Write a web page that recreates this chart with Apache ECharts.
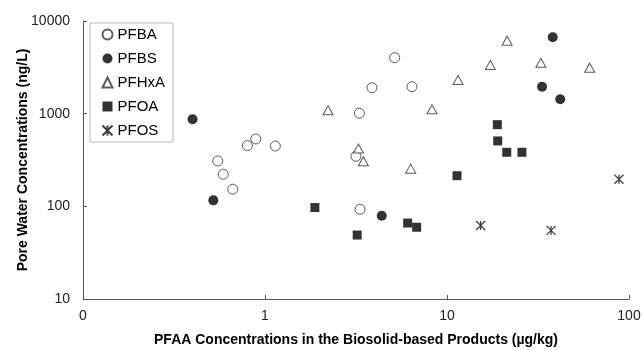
<!DOCTYPE html>
<html lang="en">
<head>
    <meta charset="UTF-8">
    <title>Pore water vs biosolid</title>
    <script src="https://cdn.jsdelivr.net/npm/echarts@6/dist/echarts.min.js"></script>
    <style>
        *{padding:0;margin:0;box-sizing:border-box;}
        body{background:#fff;}
        #main{width:644px;height:350px;}
    </style>
</head>
<body>
    <div id="main"></div>
    <script>
        // [biosolid ug/kg, pore water ng/L]
        var pfba=[[0.55,309],[0.59,222],[0.665,153],[0.80,452],[0.89,533],[1.14,448],[3.16,347],[3.30,1010],[3.33,93],[3.87,1907],[5.16,4019],[6.42,1955]]
        var pfbs=[[0.40,871],[0.52,116],[4.38,79],[33.3,1955],[38.1,6670],[41.9,1430]]
        var pfhxa=[[2.22,1088],[3.26,421],[3.47,307],[6.32,255],[8.27,1116],[11.5,2310],[17.3,3353],[21.4,6132],[32.8,3548],[60.8,3136]]
        var pfoa=[[1.88,97],[3.21,49],[6.08,66],[6.81,59.5],[11.35,214],[18.9,761],[19.0,508],[21.3,383],[25.8,383]]
        var pfos=[[15.3,62],[37.3,55],[88.1,196]]
        var seriesNames=["PFBA","PFBS","PFHxA","PFOA","PFOS"]

        var myChart=echarts.init(document.getElementById("main"))
        var font="Liberation Sans, Arial, sans-serif"
        var ink="#333"
        var asterisk="path://M0,0L10,10M10,0L0,10M5,0L5,10"

        var option={
            animation:false,
            textStyle:{fontFamily:font},
            grid:{left:83,right:15,top:21,bottom:51,outerBoundsMode:"none",containLabel:false},
            legend:{
                data:seriesNames,
                orient:"vertical",
                left:90,
                top:23,
                padding:[4,8,4,10],
                itemGap:9,
                itemWidth:10,
                itemHeight:10,
                borderColor:"#bbb",
                borderWidth:1,
                textStyle:{fontSize:15,color:"#000",fontFamily:font,lineHeight:15},
            },
            xAxis:{
                type:"log",
                logBase:10,
                min:0.1,
                max:100,
                name:"PFAA Concentrations in the Biosolid-based Products (µg/kg)",
                nameLocation:"middle",
                nameGap:34,
                nameTextStyle:{fontSize:14,fontWeight:"bold",color:"#000",fontFamily:font},
                axisLine:{lineStyle:{color:"#555",width:1}},
                axisTick:{inside:true,length:4,lineStyle:{color:"#555"}},
                axisLabel:{fontSize:14,color:"#222",margin:10,formatter:function(v){return v<1?"0":String(Math.round(v))}},
                splitLine:{show:false},
                minorTick:{show:false},
            },
            yAxis:{
                type:"log",
                logBase:10,
                min:10,
                max:10000,
                name:"Pore Water Concentrations (ng/L)",
                nameLocation:"middle",
                nameGap:53,
                nameMoveOverlap:false,
                nameTextStyle:{fontSize:14,fontWeight:"bold",color:"#000",fontFamily:font},
                axisLine:{show:true,lineStyle:{color:"#555",width:1}},
                axisTick:{show:true,inside:true,length:4,lineStyle:{color:"#555"}},
                axisLabel:{fontSize:14,color:"#222",margin:13,formatter:function(v){return String(Math.round(v))}},
                splitLine:{show:false},
            },
            series:[
                {name:"PFBA",type:"scatter",data:pfba,symbol:"circle",symbolSize:10,
                    itemStyle:{color:"#fff",borderColor:ink,borderWidth:1}},
                {name:"PFBS",type:"scatter",data:pfbs,symbol:"circle",symbolSize:10,
                    itemStyle:{color:"#000"}},
                {name:"PFHxA",type:"scatter",data:pfhxa,symbol:"triangle",symbolSize:[10,9],
                    itemStyle:{color:"#fff",borderColor:ink,borderWidth:1}},
                {name:"PFOA",type:"scatter",data:pfoa,symbol:"rect",symbolSize:9,
                    itemStyle:{color:"#000"}},
                {name:"PFOS",type:"scatter",data:pfos,symbol:asterisk,symbolSize:9,
                    itemStyle:{color:"none",borderColor:"#111",borderWidth:1.3}},
            ]
        }

        myChart.setOption(option)
        window.onresize=myChart.resize
    </script>
</body>
</html>
